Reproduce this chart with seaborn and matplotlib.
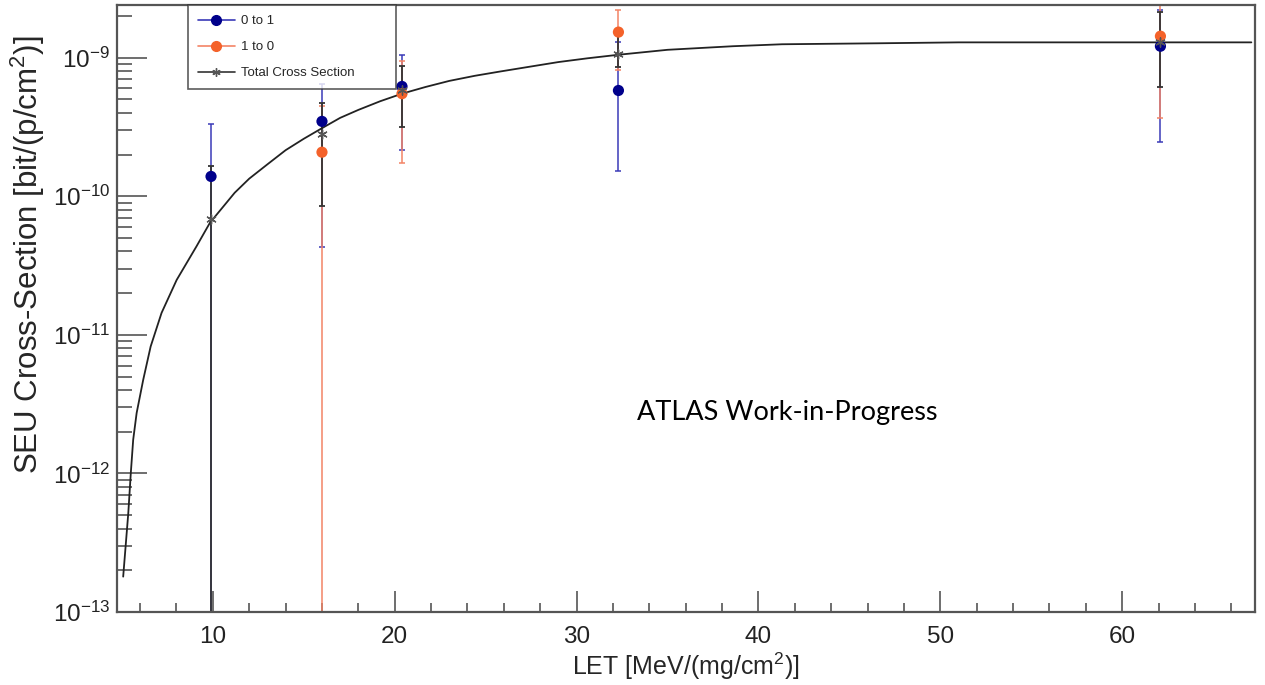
import numpy as np
import pandas as pd
import matplotlib
matplotlib.use("Agg")
import matplotlib.pyplot as plt
import seaborn as sns
from matplotlib import font_manager
from matplotlib.ticker import LogLocator, MultipleLocator, NullFormatter, LogFormatterSciNotation
from matplotlib.lines import Line2D

# ---------------- data ----------------
let_values = [9.9, 16.0, 20.4, 32.3, 62.1]

xs_0to1 = [1.39e-10, 3.47e-10, 6.2e-10, 5.8e-10, 1.21e-9]
xs_0to1_low = [1e-14, 4.3e-11, 2.15e-10, 1.52e-10, 2.45e-10]
xs_0to1_high = [3.3e-10, 6.5e-10, 1.04e-9, 1.3e-9, 2.2e-9]

xs_1to0 = [np.nan, 2.08e-10, 5.5e-10, 1.53e-9, 1.43e-9]
xs_1to0_low = [np.nan, 1e-14, 1.73e-10, 8.1e-10, 3.7e-10]
xs_1to0_high = [np.nan, 4.5e-10, 9.4e-10, 2.2e-9, 2.6e-9]

xs_total = [6.9e-11, 2.8e-10, 5.8e-10, 1.06e-9, 1.3e-9]
xs_total_low = [1e-14, 8.5e-11, 3.15e-10, 8.5e-10, 6.1e-10]
xs_total_high = [1.65e-10, 4.7e-10, 8.7e-10, 1.45e-9, 2.14e-9]

fit_let = [5.07, 5.35, 5.49, 5.62, 5.81, 6.17, 6.58, 7.18, 8.01, 9.10, 9.84, 10.5, 11.2,
           12.0, 13.0, 14.0, 15.0, 16.0, 17.0, 18.0, 19.2, 20.4, 21.7, 23.0, 24.4, 25.8,
           27.4, 29.0, 30.6, 32.3, 35.0, 38.6, 41.3, 46.5, 51.0, 67.1]
fit_xs = [1.80e-13, 5.16e-13, 1.01e-12, 1.75e-12, 2.73e-12, 4.73e-12, 8.24e-12, 1.44e-11,
          2.49e-11, 4.35e-11, 6.44e-11, 8.2e-11, 1.06e-10, 1.34e-10, 1.7e-10, 2.15e-10,
          2.6e-10, 3.1e-10, 3.68e-10, 4.2e-10, 4.85e-10, 5.5e-10, 6.15e-10, 6.8e-10, 7.4e-10,
          7.95e-10, 8.6e-10, 9.3e-10, 9.9e-10, 1.05e-9, 1.14e-9, 1.21e-9, 1.25e-9, 1.27e-9,
          1.29e-9, 1.29e-9]

legend_labels = ["0 to 1", "1 to 0", "Total Cross Section"]
x_title = "LET [MeV/(mg/cm$^{2}$)]"
y_title = "SEU Cross-Section [bit/(p/cm$^{2}$)]"
annotation = "ATLAS Work-in-Progress"

# ---------------- style ----------------
sns.set_style("white")
names = {f.name for f in font_manager.fontManager.ttflist}
main_font = "Liberation Sans Narrow" if "Liberation Sans Narrow" in names else "Liberation Sans"
plt.rcParams["font.family"] = [main_font, "DejaVu Sans"]
plt.rcParams["mathtext.fontset"] = "custom"
plt.rcParams["mathtext.rm"] = main_font
plt.rcParams["mathtext.it"] = main_font
plt.rcParams["mathtext.default"] = "regular"

blue = "#00008B"
blue_err = "#3a3ab8"
orange = "#F4622A"
orange_err = "#F38466"
black_err = "#333333"
frame = "#555555"

fig = plt.figure(figsize=(12.65, 6.85), dpi=100)
ax = fig.add_axes([117 / 1265, 1 - 612 / 685, (1255 - 117) / 1265, (612 - 5) / 685])

df = pd.DataFrame({"let": let_values, "b": xs_0to1, "o": xs_1to0, "t": xs_total})
fit_df = pd.DataFrame({"let": fit_let, "xs": fit_xs})

def asym(y, lo, hi):
    y = np.array(y, float)
    return np.vstack([y - np.array(lo, float), np.array(hi, float) - y])

ax.errorbar(let_values, xs_0to1, yerr=asym(xs_0to1, xs_0to1_low, xs_0to1_high), fmt="none",
            ecolor=blue_err, elinewidth=1.1, capsize=2, capthick=1.1, zorder=2)
ax.errorbar(let_values, xs_1to0, yerr=asym(xs_1to0, xs_1to0_low, xs_1to0_high), fmt="none",
            ecolor=orange_err, elinewidth=1.1, capsize=2, capthick=1.1, zorder=2.1)
ax.errorbar(let_values, xs_total, yerr=asym(xs_total, xs_total_low, xs_total_high), fmt="none",
            ecolor=black_err, elinewidth=1.3, capsize=2, capthick=1.3, zorder=2.2)

sns.lineplot(data=fit_df, x="let", y="xs", ax=ax, color="#222222", linewidth=1.3,
             sort=False, estimator=None, zorder=3)
sns.scatterplot(data=df, x="let", y="b", ax=ax, color=blue, s=65, edgecolor="none", zorder=4)
sns.scatterplot(data=df, x="let", y="o", ax=ax, color=orange, s=65, edgecolor="none", zorder=4.1)
sns.scatterplot(data=df, x="let", y="t", ax=ax, color="#555555", marker=(6, 2, 0), s=45,
                linewidth=1.0, zorder=4.2)

ax.set_yscale("log")
ax.set_xlim(4.73, 67.3)
ax.set_ylim(1e-13, 2.4e-9)

for s in ax.spines.values():
    s.set_color(frame)
    s.set_linewidth(1.6)

ax.xaxis.set_major_locator(MultipleLocator(10))
ax.xaxis.set_minor_locator(MultipleLocator(2))
ax.yaxis.set_major_locator(LogLocator(base=10, numticks=20))
ax.yaxis.set_minor_locator(LogLocator(base=10, subs=np.arange(2, 10), numticks=20))
ax.yaxis.set_minor_formatter(NullFormatter())
ax.yaxis.set_major_formatter(LogFormatterSciNotation())

ax.tick_params(axis="both", which="both", direction="in", labelcolor="#222222", labelsize=17.5,
               top=False, right=False, bottom=True, left=True)
ax.tick_params(axis="x", which="major", length=15, width=1.2, color=frame, pad=10)
ax.tick_params(axis="x", which="minor", length=6.5, width=1.2, color=frame)
ax.tick_params(axis="y", which="major", length=21.5, width=1.2, color=frame, pad=5)
ax.tick_params(axis="y", which="minor", length=10.8, width=1.2, color=frame)

ax.set_xlabel(x_title, fontsize=18, labelpad=2)
ax.set_ylabel(y_title, fontsize=22.5)
ax.yaxis.set_label_coords(-0.0615, 0.588)

ax.text(0.589, 0.328, annotation, transform=ax.transAxes, ha="center", va="center",
        fontsize=19.5, family=["Lato", "DejaVu Sans"], color="black")

handles = [
    Line2D([], [], color=blue_err, marker="o", markerfacecolor=blue, markeredgecolor=blue,
           markersize=7, lw=1.2),
    Line2D([], [], color=orange_err, marker="o", markerfacecolor=orange, markeredgecolor=orange,
           markersize=7, lw=1.2),
    Line2D([], [], color="#333333", marker=(6, 2, 0), markeredgecolor="#555555",
           markersize=6, lw=1.2),
]
leg = ax.legend(handles, legend_labels, loc="upper left",
                bbox_to_anchor=(0.0624, 0.862, 0.1828, 0.138), mode="expand",
                fontsize=9.5, frameon=True, fancybox=False, handlelength=2.8, borderpad=0.75,
                labelspacing=1.05, handletextpad=0.45, borderaxespad=0)
leg.get_frame().set_edgecolor("#333333")
leg.get_frame().set_linewidth(1.2)

fig.savefig("out.png", dpi=100)
